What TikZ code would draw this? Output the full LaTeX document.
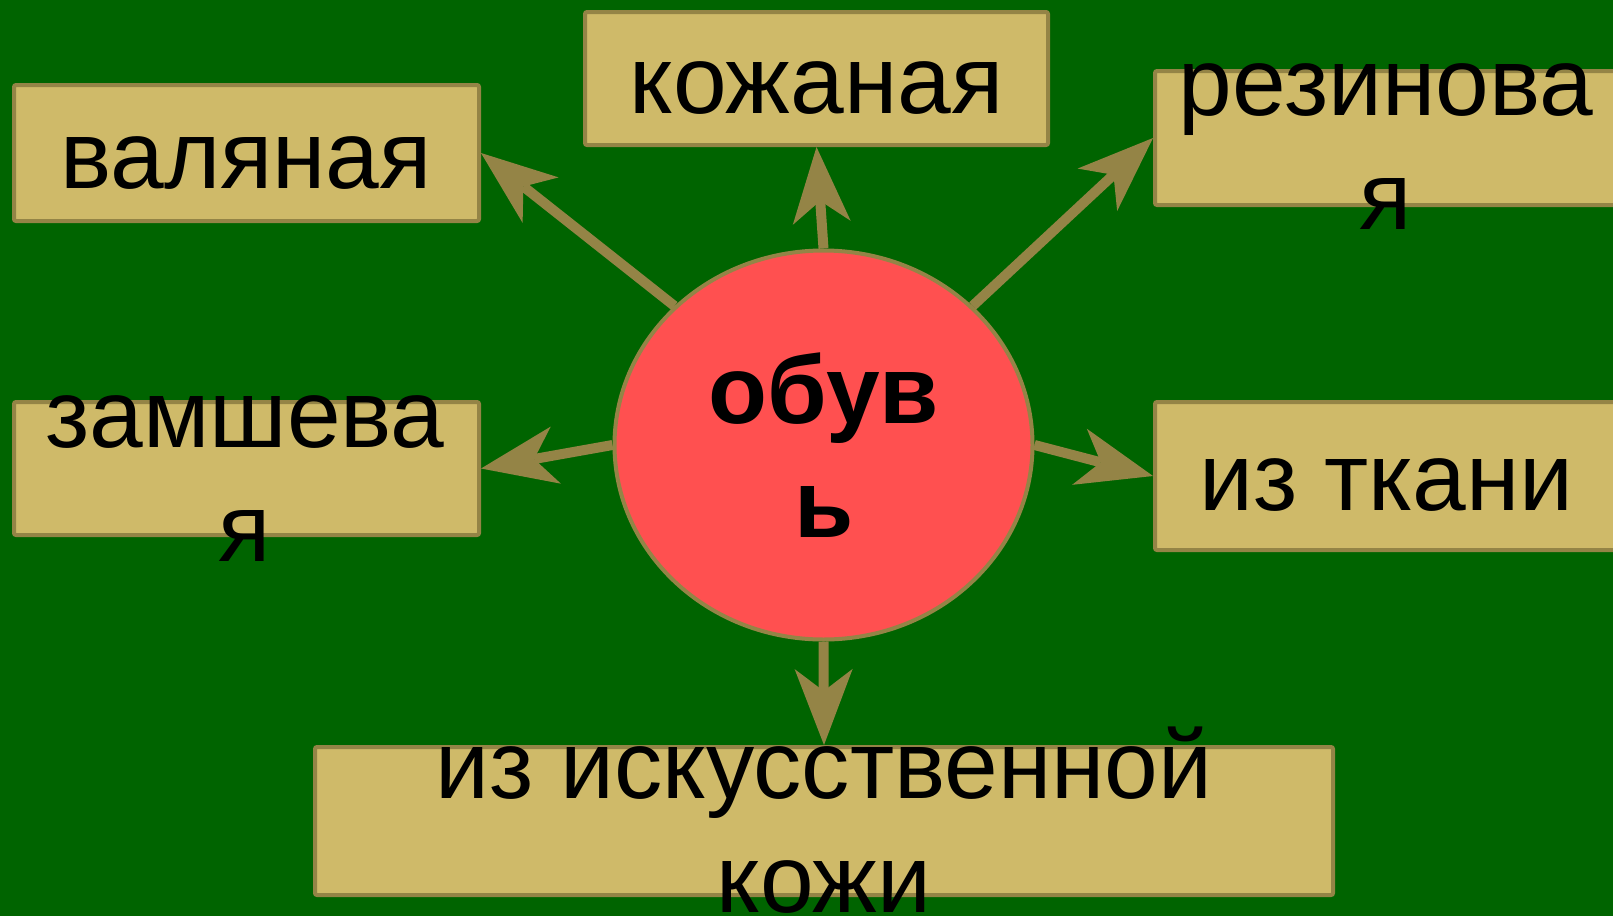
\documentclass[tikz,border=0pt]{standalone}
\usepackage{fontspec}
\setmainfont{Liberation Sans}
\usetikzlibrary{arrows.meta,shapes.geometric}
\definecolor{bggreen}{HTML}{006400}
\definecolor{boxfill}{HTML}{CFBA69}
\definecolor{olivec}{HTML}{948446}
\definecolor{redc}{HTML}{FF5050}
\tikzset{
  box/.style={draw=olivec, line width=4pt, fill=boxfill, rounded corners=2pt, inner sep=0pt, outer sep=2pt},
  hub/.style={ellipse, draw=olivec, line width=4pt, fill=redc, inner sep=0pt, outer sep=2pt},
  txt/.style={inner sep=0pt, anchor=base, text=black, font=\fontsize{96.5}{114.5}\selectfont},
  btxt/.style={txt, font=\fontsize{96.5}{114.5}\selectfont\bfseries},
  arr/.style={draw=olivec, line width=10pt,
    -{Stealth[length=76pt, width=58pt, inset=22pt, line width=0pt, fill=olivec]}}
}
\begin{document}
\begin{tikzpicture}[x=1pt, y=-1pt]
\useasboundingbox (0,0) rectangle (1613,916);
\fill[bggreen] (0,0) rectangle (1613,916);
\begin{scope}
\clip (0,0) rectangle (1613,916);
% boxes
\node[box, minimum width=465pt, minimum height=136pt] (v) at (246.5,153) {};
\node[box, minimum width=463pt, minimum height=133pt] (k) at (816.5,78.5) {};
\node[box, minimum width=464pt, minimum height=134pt] (r) at (1387,138) {};
\node[box, minimum width=465pt, minimum height=133pt] (z) at (246.5,468.5) {};
\node[box, minimum width=464pt, minimum height=148pt] (t) at (1387,476) {};
\node[box, minimum width=1018pt, minimum height=148pt] (i) at (824,821) {};
% hub
\node[hub, minimum width=418pt, minimum height=389pt] (c) at (823.5,445) {};
% arrows
\draw[arr] (c.137) -- (v.east);
\draw[arr] (c.north) -- (k.south);
\draw[arr] (c.43) -- (r.west);
\draw[arr] (c.west) -- (z.east);
\draw[arr] (c.east) -- (t.west);
\draw[arr] (c.south) -- (i.north);
% texts
\node[txt] (tv) at (246,188) {валяная};
\node[txt] (tk) at (816.5,113) {кожаная};
\node[txt] (tr) at (1386,115) {\begin{tabular}[t]{@{}c@{}}резинова\\я\end{tabular}};
\node[txt] (tz) at (245,447) {\begin{tabular}[t]{@{}c@{}}замшева\\я\end{tabular}};
\node[txt] (tt) at (1386.5,510) {из ткани};
\node[txt] (ti) at (824,798) {\begin{tabular}[t]{@{}c@{}}из искусственной\\кожи\end{tabular}};
\node[btxt] (tc) at (824,423) {\begin{tabular}[t]{@{}c@{}}обув\\ь\end{tabular}};
\end{scope}
\end{tikzpicture}
\end{document}
